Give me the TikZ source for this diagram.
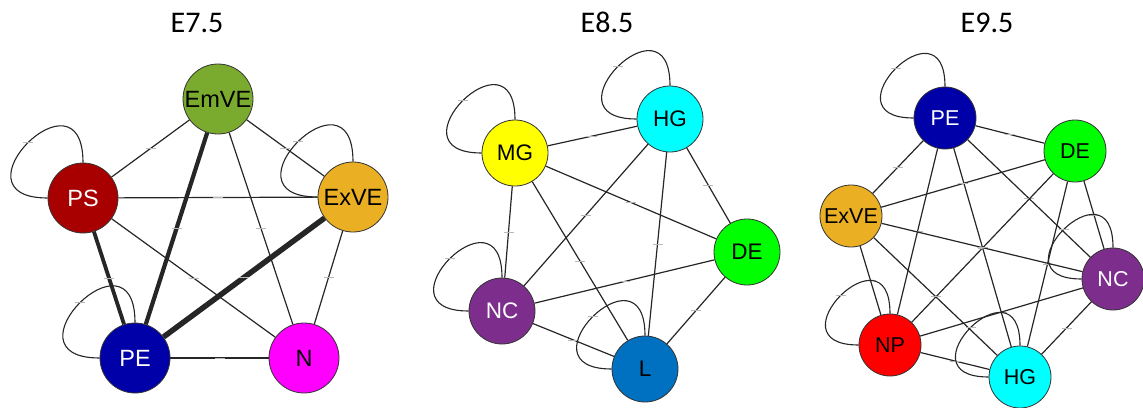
\documentclass[tikz,border=0pt]{standalone}
\usepackage{fontspec}
\setmainfont{Carlito}
\newfontfamily\labfont{Liberation Sans}
\usetikzlibrary{backgrounds,decorations.markings}
\definecolor{cEmVE}{HTML}{7AAB2F}
\definecolor{cPS}{HTML}{A80000}
\definecolor{cExVE}{HTML}{EBAF24}
\definecolor{cPE}{HTML}{0000A8}
\definecolor{cN}{HTML}{FF00FF}
\definecolor{cMG}{HTML}{FFFF00}
\definecolor{cHG}{HTML}{00FFFF}
\definecolor{cDE}{HTML}{00FF00}
\definecolor{cNC}{HTML}{7D2E8D}
\definecolor{cL}{HTML}{0070C0}
\definecolor{cNP}{HTML}{FF0000}
\definecolor{edgec}{HTML}{262626}
\tikzset{
  gnode/.style={circle, draw=black!80, line width=0.8pt, inner sep=0pt, text=black},
  gone/.style={gnode, minimum size=70pt, font=\labfont\fontsize{23.5}{28}\selectfont},
  gtwo/.style={gnode, minimum size=66pt, font=\labfont\fontsize{22.5}{27}\selectfont},
  gthree/.style={gnode, minimum size=62pt, font=\labfont\fontsize{21.5}{26}\selectfont},
  titlenode/.style={anchor=base, font=\fontsize{30}{36}\selectfont},
  tickline/.style={draw=black!28, line width=0.8pt},
  midtick/.style={postaction={decorate, decoration={markings,
      mark=at position 0.5 with {\pgftransformresetnontranslations\draw[tickline] (-5pt,0) -- (5pt,0);}}}},
  edge/.style={draw=edgec, line width=1.2pt, midtick},
  loopedge/.style={draw=edgec, line width=1.1pt, midtick},
}
\newcommand\drawselfloop[2]{\draw[loopedge] (#1.north) .. controls +(0,-#2) and +(-#2,0) .. (#1.west);}
\begin{document}
\begin{tikzpicture}[x=1pt, y=-1pt]
\useasboundingbox (0,0) rectangle (1143,407);
% titles
\node[titlenode] (t1) at (197,32) {E7.5};
\node[titlenode] (t2) at (607,32) {E8.5};
\node[titlenode] (t3) at (987,32) {E9.5};
% graph 1
\node[gone, fill=cEmVE] (a1) at (218,99) {EmVE};
\node[gone, fill=cPS, text=white] (a2) at (83,198) {PS};
\node[gone, fill=cExVE] (a3) at (353,197) {ExVE};
\node[gone, fill=cPE, text=white] (a4) at (135,358) {PE};
\node[gone, fill=cN] (a5) at (304,358) {N};
% graph 2
\node[gtwo, fill=cHG] (b1) at (670,119) {HG};
\node[gtwo, fill=cMG] (b2) at (515,153) {MG};
\node[gtwo, fill=cDE] (b3) at (747,252) {DE};
\node[gtwo, fill=cNC, text=white] (b4) at (502,311) {NC};
\node[gtwo, fill=cL] (b5) at (645,369) {L};
% graph 3
\node[gthree, fill=cPE, text=white] (c1) at (945,118) {PE};
\node[gthree, fill=cDE] (c2) at (1075,151) {DE};
\node[gthree, fill=cExVE] (c3) at (851,216) {ExVE};
\node[gthree, fill=cNC, text=white] (c4) at (1113,279) {NC};
\node[gthree, fill=cNP] (c5) at (890,345) {NP};
\node[gthree, fill=cHG] (c6) at (1020,377) {HG};
\begin{pgfonlayer}{background}
% graph 1 edges
\draw[edge] (a1) -- (a2);
\draw[edge] (a1) -- (a3);
\draw[edge, line width=4.2pt] (a1) -- (a4);
\draw[edge] (a1) -- (a5);
\draw[edge] (a2) -- (a3);
\draw[edge, line width=3.8pt] (a2) -- (a4);
\draw[edge] (a2) -- (a5);
\draw[edge, line width=5.5pt] (a3) -- (a4);
\draw[edge] (a3) -- (a5);
\draw[edge, line width=2.8pt] (a4) -- (a5);
\drawselfloop{a2}{100}
\drawselfloop{a3}{100}
\drawselfloop{a4}{100}
% graph 2 edges
\draw[edge] (b2) -- (b1);
\draw[edge] (b2) -- (b3);
\draw[edge] (b2) -- (b4);
\draw[edge] (b2) -- (b5);
\draw[edge] (b1) -- (b4);
\draw[edge] (b1) -- (b5);
\draw[edge] (b1) -- (b3);
\draw[edge] (b3) -- (b4);
\draw[edge] (b3) -- (b5);
\draw[edge] (b4) -- (b5);
\drawselfloop{b1}{95}
\drawselfloop{b2}{95}
\drawselfloop{b4}{95}
\drawselfloop{b5}{95}
% graph 3 edges
\draw[edge] (c1) -- (c2);
\draw[edge] (c1) -- (c3);
\draw[edge] (c1) -- (c5);
\draw[edge] (c1) -- (c6);
\draw[edge] (c1) -- (c4);
\draw[edge] (c2) -- (c3);
\draw[edge] (c2) -- (c5);
\draw[edge] (c2) -- (c6);
\draw[edge] (c2) -- (c4);
\draw[edge] (c3) -- (c4);
\draw[edge] (c3) -- (c5);
\draw[edge] (c3) -- (c6);
\draw[edge] (c4) -- (c5);
\draw[edge] (c4) -- (c6);
\draw[edge] (c5) -- (c6);
\drawselfloop{c1}{90}
\drawselfloop{c4}{90}
\drawselfloop{c5}{90}
\drawselfloop{c6}{90}
\end{pgfonlayer}
\end{tikzpicture}
\end{document}
